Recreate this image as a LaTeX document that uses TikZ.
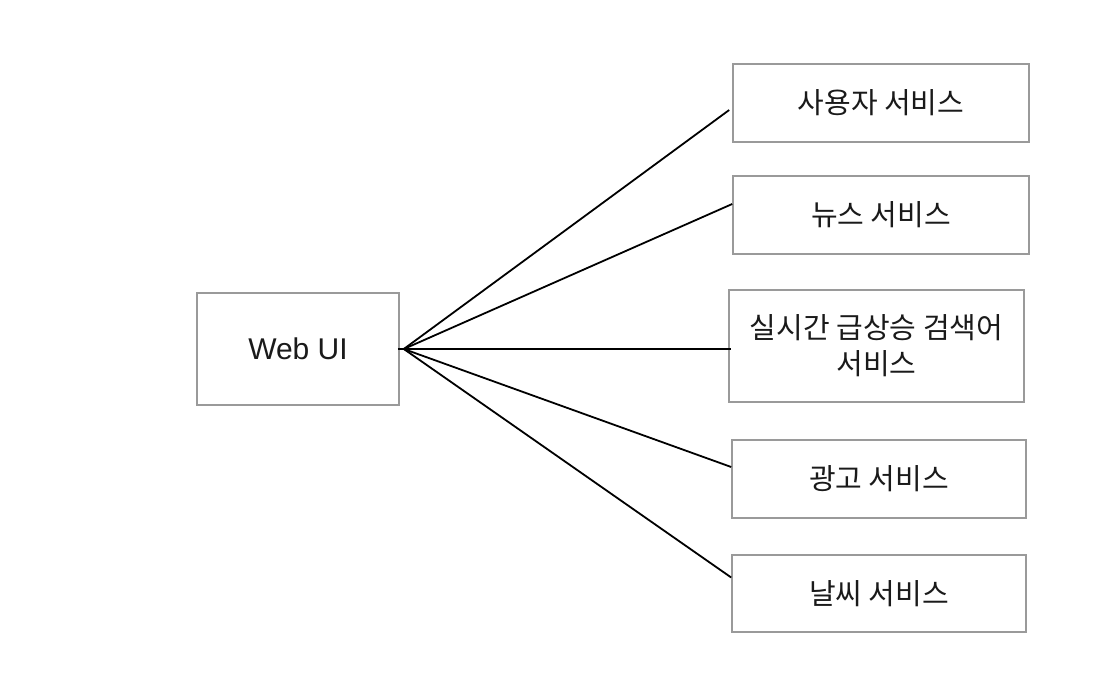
\documentclass[tikz,border=0pt]{standalone}
\usepackage{fontspec}
\setmainfont{Liberation Sans}
\newfontfamily\kr{Noto Sans CJK KR}
\definecolor{boxgray}{HTML}{9A9A9A}
\definecolor{txt}{HTML}{1A1A1A}
\tikzset{
  svc/.style={draw=boxgray, line width=1.6pt, minimum width=296pt, minimum height=78pt, inner sep=0pt, align=center, text=txt, font=\kr\fontsize{29}{36}\selectfont},
  webbox/.style={draw=boxgray, line width=1.6pt, minimum width=202pt, minimum height=112pt, inner sep=0pt, text=txt, font=\fontsize{30}{36}\selectfont},
  link/.style={line width=1.8pt, black}
}
\begin{document}
\begin{tikzpicture}[x=1pt,y=1pt]
\useasboundingbox (0,0) rectangle (1099,673);
\fill[white] (0,0) rectangle (1099,673);
\node[webbox] (web) at (298,324) {Web UI};
\node[svc] (s1) at (881,570) {사용자 서비스};
\node[svc] (s2) at (881,458) {뉴스 서비스};
\node[svc, minimum width=295pt, minimum height=112pt] (s3) at (876.5,327) {실시간 급상승 검색어\\서비스};
\node[svc, minimum width=294pt] (s4) at (879,194) {광고 서비스};
\node[svc, minimum width=294pt, minimum height=77pt] (s5) at (879,79.5) {날씨 서비스};
\coordinate (hub) at ([xshift=4pt]web.east);
\coordinate (e1) at ([xshift=-3pt,yshift=-7pt]s1.west);
\coordinate (e2) at ([yshift=11pt]s2.west);
\coordinate (e3) at ([xshift=3pt,yshift=-3pt]s3.west);
\coordinate (e4) at ([yshift=12pt]s4.west);
\coordinate (e5) at ([yshift=16pt]s5.west);
\draw[link] ([xshift=-2pt]web.east) -- (hub);
\foreach \e in {e1,e2,e3,e4,e5} \draw[link] (hub) -- (\e);
\end{tikzpicture}
\end{document}
